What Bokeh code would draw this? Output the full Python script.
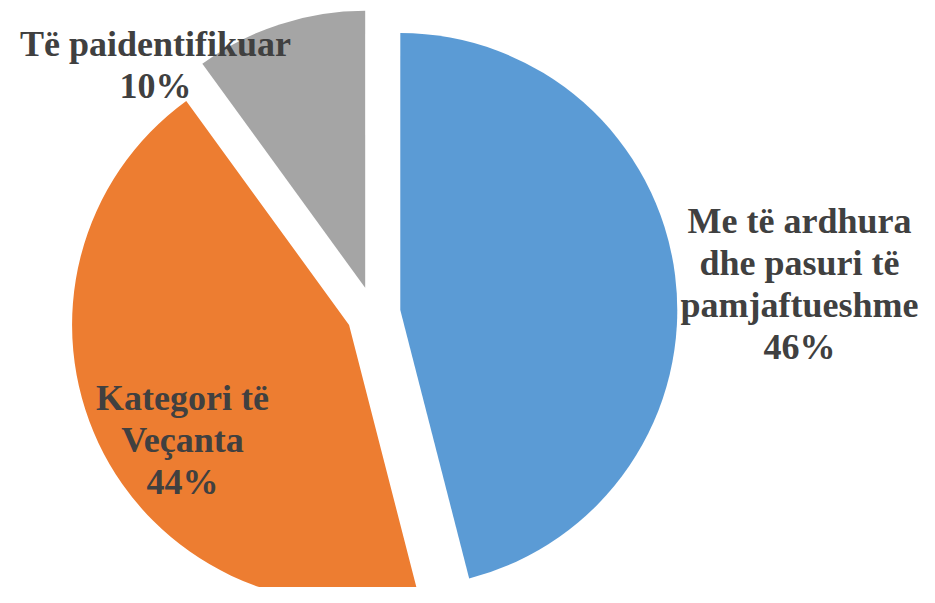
import math
from bokeh.plotting import figure
from bokeh.models import Range1d, ColumnDataSource
from bokeh.core.properties import value
from bokeh.embed import file_html
from bokeh.resources import INLINE

# ---- data ----
categories = ["Me të ardhura dhe pasuri të pamjaftueshme", "Kategori të Veçanta", "Të paidentifikuar"]
label_lines = [["Me të ardhura", "dhe pasuri të", "pamjaftueshme"],
               ["Kategori të", "Veçanta"],
               ["Të paidentifikuar"]]
values = [46, 44, 10]
colors = ["#5B9BD5", "#ED7D31", "#A5A5A5"]

# ---- layout (screen pixel coordinates, y downward) ----
PW, PH = 919, 587
CX, CY = 373, 313
R = 277
EXPLODE = 27
label_anchor = [(799, 220), (182, 397), (155, 43)]
LINE_STEP = 42
FONT = "Liberation Serif"
TEXT_COLOR = "#404040"

def sy(y):
    return PH - y

p = figure(width=PW, height=PH, output_backend="svg", toolbar_location=None,
           x_range=Range1d(0, PW), y_range=Range1d(0, PH),
           min_border=0, min_border_left=0, min_border_right=0,
           min_border_top=0, min_border_bottom=0)
p.axis.visible = False
p.xgrid.visible = False
p.ygrid.visible = False
p.outline_line_color = None
p.background_fill_color = "white"
p.border_fill_color = "white"

total = float(sum(values))
cum = 0.0
wx, wy, sa, ea = [], [], [], []
for v in values:
    f0 = cum / total
    f1 = (cum + v) / total
    cum += v
    mid = (f0 + f1) / 2
    tm = math.pi / 2 - 2 * math.pi * mid
    wx.append(CX + EXPLODE * math.cos(tm))
    wy.append(sy(CY) + EXPLODE * math.sin(tm))
    sa.append(math.pi / 2 - 2 * math.pi * f1)
    ea.append(math.pi / 2 - 2 * math.pi * f0)

src = ColumnDataSource(dict(x=wx, y=wy, start=sa, end=ea, color=colors, cat=categories, val=values))
p.wedge(x="x", y="y", radius=R, start_angle="start", end_angle="end",
        direction="anticlock", fill_color="color", line_color=None, source=src)

tx, ty, tt = [], [], []
for lines, v, (ax, ay) in zip(label_lines, values, label_anchor):
    all_lines = lines + [f"{v}%"]
    for i, ln in enumerate(all_lines):
        tx.append(ax)
        ty.append(sy(ay + i * LINE_STEP))
        tt.append(ln)

p.text(x=tx, y=ty, text=tt, text_font=value(FONT), text_font_size="36px",
       text_font_style="bold", text_color=TEXT_COLOR, text_align="center",
       text_baseline="alphabetic")

open("out.html", "w").write(file_html(p, INLINE))
